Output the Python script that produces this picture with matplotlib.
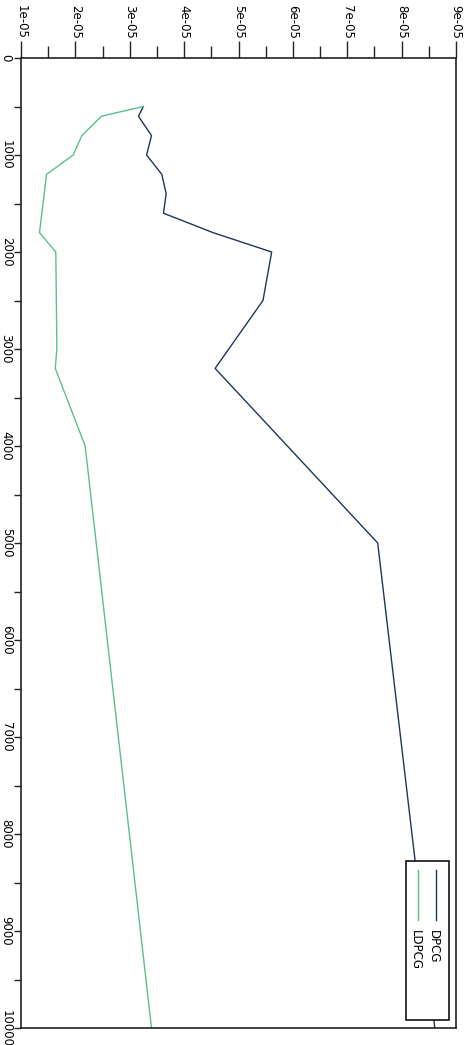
import matplotlib
matplotlib.use("Agg")
import matplotlib.pyplot as plt
from matplotlib.ticker import MultipleLocator, FuncFormatter
from matplotlib.patches import Rectangle
from matplotlib.lines import Line2D

# data (problem size -> time), the chart is drawn rotated by 90 degrees
dpcg_n = [500, 600, 800, 1000, 1200, 1400, 1600, 1800, 2000, 2500, 3200, 5000, 10000]
dpcg_t = [3.25e-5, 3.16e-5, 3.40e-5, 3.31e-5, 3.59e-5, 3.67e-5, 3.62e-5, 4.53e-5,
          5.61e-5, 5.45e-5, 4.57e-5, 7.56e-5, 8.61e-5]
ldpcg_n = [500, 600, 800, 1000, 1200, 1800, 2000, 3000, 3200, 4000, 10000]
ldpcg_t = [3.25e-5, 2.48e-5, 2.12e-5, 1.96e-5, 1.47e-5, 1.34e-5, 1.64e-5, 1.66e-5,
           1.63e-5, 2.18e-5, 3.40e-5]
labels = ["DPCG", "LDPCG"]
colors = ["#1f3658", "#5cc08a"]

plt.rcParams["font.family"] = ["DejaVu Sans"]

fig = plt.figure(figsize=(4.73, 10.45), dpi=100)
W, H = 473, 1045
x0, x1, y0, y1 = 21, 456, 58, 1028
ax = fig.add_axes([x0 / W, 1 - y1 / H, (x1 - x0) / W, (y1 - y0) / H])

ax.plot(dpcg_t, dpcg_n, color=colors[0], lw=1.0)
ax.plot(ldpcg_t, ldpcg_n, color=colors[1], lw=1.0)

ax.set_xlim(1e-5, 9e-5)
ax.set_ylim(10000, 0)

ax.xaxis.set_major_locator(MultipleLocator(1e-5))
ax.xaxis.set_minor_locator(MultipleLocator(0.5e-5))
ax.xaxis.set_major_formatter(FuncFormatter(lambda v, p: f"{v:.0e}"))
ax.yaxis.set_major_locator(MultipleLocator(1000))
ax.yaxis.set_minor_locator(MultipleLocator(500))

ax.tick_params(axis="x", which="both", top=True, bottom=False, labeltop=True,
               labelbottom=False, direction="out", width=1.0, color="#222222")
ax.tick_params(axis="x", which="major", length=12, pad=2, labelsize=8.5)
ax.tick_params(axis="x", which="minor", length=9)
ax.tick_params(axis="y", which="both", left=True, right=False, direction="out",
               width=1.0, length=5, color="#222222", pad=1, labelsize=8.5)
for t in ax.get_xticklabels():
    t.set_rotation(-90)
    t.set_va("bottom")
    t.set_ha("center")
for t in ax.get_yticklabels():
    t.set_rotation(-90)
    t.set_va("center")
    t.set_ha("right")

for s in ax.spines.values():
    s.set_linewidth(1.2)
    s.set_color("#222222")

# legend, drawn rotated like the rest of the chart
ax.add_patch(Rectangle((0.884, 0.008), 0.101, 0.164, transform=ax.transAxes,
                       facecolor="white", edgecolor="#111111", lw=1.2, zorder=5))
leg_x = [0.953, 0.912]
for lx, lab, c in zip(leg_x, labels, colors):
    ax.add_line(Line2D([lx, lx], [0.163, 0.111], transform=ax.transAxes,
                       color=c, lw=1.0, zorder=6))
    ax.text(lx - 0.005, 0.101, lab, transform=ax.transAxes, rotation=-90,
            ha="center", va="top", fontsize=8.5, zorder=6)

fig.savefig("out.png", dpi=100)
